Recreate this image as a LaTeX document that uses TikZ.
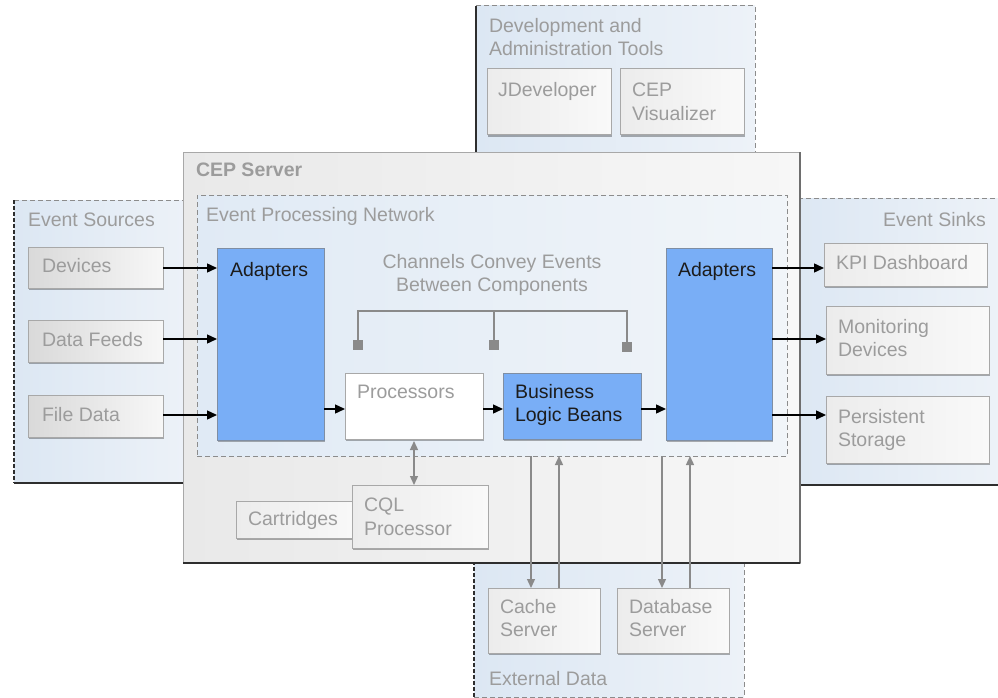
\documentclass[tikz,border=0pt]{standalone}
\usepackage{fontspec}
\setmainfont{Liberation Sans}
\usetikzlibrary{arrows.meta,shadows}
\definecolor{txtgray}{HTML}{9C9C9C}
\definecolor{txtdark}{HTML}{1C1C1C}
\definecolor{edgegray}{HTML}{A8A8A8}
\definecolor{darkedge}{HTML}{2E2E2E}
\definecolor{midedge}{HTML}{6E6E6E}
\definecolor{dashgray}{HTML}{8C8C8C}
\definecolor{bluefill}{HTML}{79AEF6}
\definecolor{blueedge}{HTML}{7F8EA3}
\definecolor{arrgray}{HTML}{8A8A8A}
\definecolor{bgL}{HTML}{DCE7F3}
\definecolor{bgR}{HTML}{EDF2F8}
\definecolor{cepL}{HTML}{E9E9E9}
\definecolor{cepR}{HTML}{F7F7F7}
\definecolor{epnL}{HTML}{E0EAF5}
\definecolor{epnR}{HTML}{F1F5F9}
\definecolor{boxL}{HTML}{D9D9D9}
\definecolor{boxR}{HTML}{F7F7F7}
\definecolor{lboxL}{HTML}{ECECEC}
\definecolor{lboxR}{HTML}{F9F9F9}
\begin{document}
\begin{tikzpicture}[x=1pt,y=-1pt,
  font=\fontsize{19.5}{23.5}\selectfont,
  areabox/.style={anchor=north west, inner sep=0pt, outer sep=0pt},
  grpbg/.style={areabox, left color=bgL, right color=bgR},
  shad/.style={drop shadow={shadow xshift=0.8pt, shadow yshift=-1.6pt, opacity=0.3, fill=black}},
  graybox/.style={areabox, draw=edgegray, line width=1pt, left color=boxL, right color=boxR, shad},
  lightbox/.style={areabox, draw=edgegray, line width=1pt, left color=lboxL, right color=lboxR, shad},
  bluebox/.style={areabox, draw=blueedge, line width=1pt, fill=bluefill, shad},
  whitebox/.style={areabox, draw=edgegray, line width=1pt, fill=white, shad},
  lbl/.style={inner sep=0pt, outer sep=0pt, text=txtgray, align=left},
  dlbl/.style={lbl, text=txtdark},
  arr/.style={draw=black, line width=1.4pt, -{Triangle[length=10pt,width=9pt]}},
  garr/.style={draw=arrgray, line width=1.3pt, -{Triangle[length=9pt,width=8pt]}},
  dashedge/.style={draw=dashgray, line width=1pt, dash pattern=on 5pt off 3pt},
  darkdash/.style={draw=darkedge, line width=1.5pt, dash pattern=on 4pt off 2pt},
  darksolid/.style={draw=darkedge, line width=1.6pt},
  chsq/.style={fill=arrgray, minimum size=10pt, inner sep=0pt, outer sep=0pt},
  gline/.style={draw=arrgray, line width=1.3pt}]
\useasboundingbox (0,0) rectangle (998,698);

% ---- outer groups ----
\node[grpbg, minimum width=279pt, minimum height=154pt] (devt) at (476,6) {};
\node[grpbg, minimum width=180pt, minimum height=283pt] (srcs) at (14,200) {};
\node[grpbg, minimum width=215pt, minimum height=287pt] (sinks) at (790,198) {};
\node[grpbg, minimum width=270pt, minimum height=142pt] (extd) at (474,555) {};

\draw[darksolid] (devt.north west) -- (devt.south west);
\draw[dashedge] (devt.north west) -- (devt.north east) -- (devt.south east);
\draw[dashedge] (srcs.north west) -- (srcs.north east);
\draw[darkdash] (srcs.north west) -- (srcs.south west);
\draw[darksolid] (srcs.south west) -- (srcs.south east);
\draw[dashedge] (sinks.north west) -- (sinks.north east);
\draw[darksolid] (sinks.south west) -- (sinks.south east);
\draw[darkdash] (extd.north west) -- (extd.south west);
\draw[dashedge] (extd.south west) -- (extd.south east) -- (extd.north east);

% ---- CEP server ----
\node[areabox, draw=edgegray, line width=1pt, left color=cepL, right color=cepR,
      minimum width=617pt, minimum height=411pt] (cep) at (183,152) {};
\draw[midedge, line width=1.2pt] (cep.north east) -- (cep.south east);
\draw[darksolid] (cep.south west) -- (cep.south east);

% ---- event processing network ----
\node[areabox, left color=epnL, right color=epnR, dashedge,
      minimum width=590pt, minimum height=261pt] (epn) at (197,195) {};

% ---- dev tools ----
\node[lightbox, minimum width=124pt, minimum height=66pt] (jdev) at (487,69) {};
\node[lightbox, minimum width=124pt, minimum height=66pt] (cepvis) at (620,69) {};

% ---- sources ----
\node[graybox, minimum width=135pt, minimum height=41pt] (dev) at (28,247) {};
\node[graybox, minimum width=135pt, minimum height=42pt] (feeds) at (28,320) {};
\node[graybox, minimum width=135pt, minimum height=42pt] (file) at (28,395) {};

% ---- sinks ----
\node[lightbox, minimum width=163pt, minimum height=43pt] (kpi) at (824,243) {};
\node[lightbox, minimum width=163pt, minimum height=68pt] (mon) at (826,306) {};
\node[lightbox, minimum width=163pt, minimum height=67pt] (pers) at (826,396) {};

% ---- EPN components ----
\node[bluebox, minimum width=107pt, minimum height=192pt] (adl) at (217,248) {};
\node[bluebox, minimum width=106pt, minimum height=192pt] (adr) at (666,248) {};
\node[whitebox, minimum width=138pt, minimum height=66pt] (proc) at (345,373) {};
\node[bluebox, minimum width=138pt, minimum height=66pt] (blb) at (503,373) {};

% channels
\node[chsq] (ch1) at (358,345) {};
\node[chsq] (ch2) at (494,345) {};
\node[chsq] (ch3) at (627,347) {};
\coordinate (brk) at (0,311);
\draw[gline] (ch1.north) |- (ch3.north |- brk) -- (ch3.north);
\draw[gline] (ch2.north) -- (ch2.north |- brk);

% ---- CQL ----
\node[lightbox, minimum width=125pt, minimum height=37pt] (cart) at (236,501) {};
\node[lightbox, minimum width=136pt, minimum height=63pt] (cql) at (352,485) {};

% ---- external data ----
\node[lightbox, minimum width=112pt, minimum height=65pt] (cache) at (488,588) {};
\node[lightbox, minimum width=112pt, minimum height=65pt] (db) at (617,588) {};

% ---- arrows ----
\coordinate (l1) at (0,268);
\coordinate (l2) at (0,339);
\coordinate (l3) at (0,415);
\coordinate (lm) at (0,409);
\draw[arr] (dev.east |- l1) -- (adl.west |- l1);
\draw[arr] (feeds.east |- l2) -- (adl.west |- l2);
\draw[arr] (file.east |- l3) -- (adl.west |- l3);
\draw[arr] (adl.east |- lm) -- (proc.west |- lm);
\draw[arr] (proc.east |- lm) -- (blb.west |- lm);
\draw[arr] (blb.east |- lm) -- (adr.west |- lm);
\draw[arr] (adr.east |- l1) -- (kpi.west |- l1);
\draw[arr] (adr.east |- l2) -- (mon.west |- l2);
\draw[arr] (adr.east |- l3) -- (pers.west |- l3);

\draw[garr, {Triangle[length=9pt,width=8pt]}-{Triangle[length=9pt,width=8pt]}]
  ([yshift=-2pt]proc.south) -- (proc.south |- cql.north);

\coordinate (c1) at (531,0);
\coordinate (c2) at (559,0);
\coordinate (c3) at (662,0);
\coordinate (c4) at (690,0);
\draw[garr] (epn.south -| c1) -- (cache.north -| c1);
\draw[garr] (cache.north -| c2) -- (epn.south -| c2);
\draw[garr] (epn.south -| c3) -- (db.north -| c3);
\draw[garr] (db.north -| c4) -- (epn.south -| c4);

% ---- labels ----
\node[lbl, anchor=base west, font=\fontsize{19.5}{23.5}\selectfont\bfseries] (tcep) at (196,176) {CEP Server};
\node[lbl, anchor=base west] (tepn) at (206,221) {Event Processing Network};
\node[lbl, anchor=base west] (tsrc) at (28,226) {Event Sources};
\node[lbl, anchor=base east] (tsnk) at (986,226) {Event Sinks};
\node[lbl, anchor=north west] (tdevt) at (489,18) {Development and\\Administration Tools};
\node[lbl, anchor=base west] (tjdev) at (498,97) {JDeveloper};
\node[lbl, anchor=north west] (tcepvis) at (632,83) {CEP\\Visualizer};
\node[lbl, anchor=base west] (tdev) at (42,272) {Devices};
\node[lbl, anchor=base west] (tfeeds) at (42,346) {Data Feeds};
\node[lbl, anchor=base west] (tfile) at (42,421) {File Data};
\node[dlbl, anchor=base west] (tadl) at (230,276) {Adapters};
\node[dlbl, anchor=base west] (tadr) at (678,276) {Adapters};
\node[lbl, anchor=north, align=center] (tch) at (492,254) {Channels Convey Events\\Between Components};
\node[lbl, anchor=base west] (tproc) at (357,398) {Processors};
\node[dlbl, anchor=north west] (tblb) at (515,384) {Business\\Logic Beans};
\node[lbl, anchor=base west] (tkpi) at (836,269) {KPI Dashboard};
\node[lbl, anchor=north west] (tmon) at (838,319) {Monitoring\\Devices};
\node[lbl, anchor=north west] (tpers) at (838,409) {Persistent\\Storage};
\node[lbl, anchor=base west] (tcart) at (248,525) {Cartridges};
\node[lbl, anchor=north west] (tcql) at (364,498) {CQL\\Processor};
\node[lbl, anchor=north west] (tcache) at (500,599) {Cache\\Server};
\node[lbl, anchor=north west] (tdb) at (629,599) {Database\\Server};
\node[lbl, anchor=base west] (text) at (489,685) {External Data};
\end{tikzpicture}
\end{document}
